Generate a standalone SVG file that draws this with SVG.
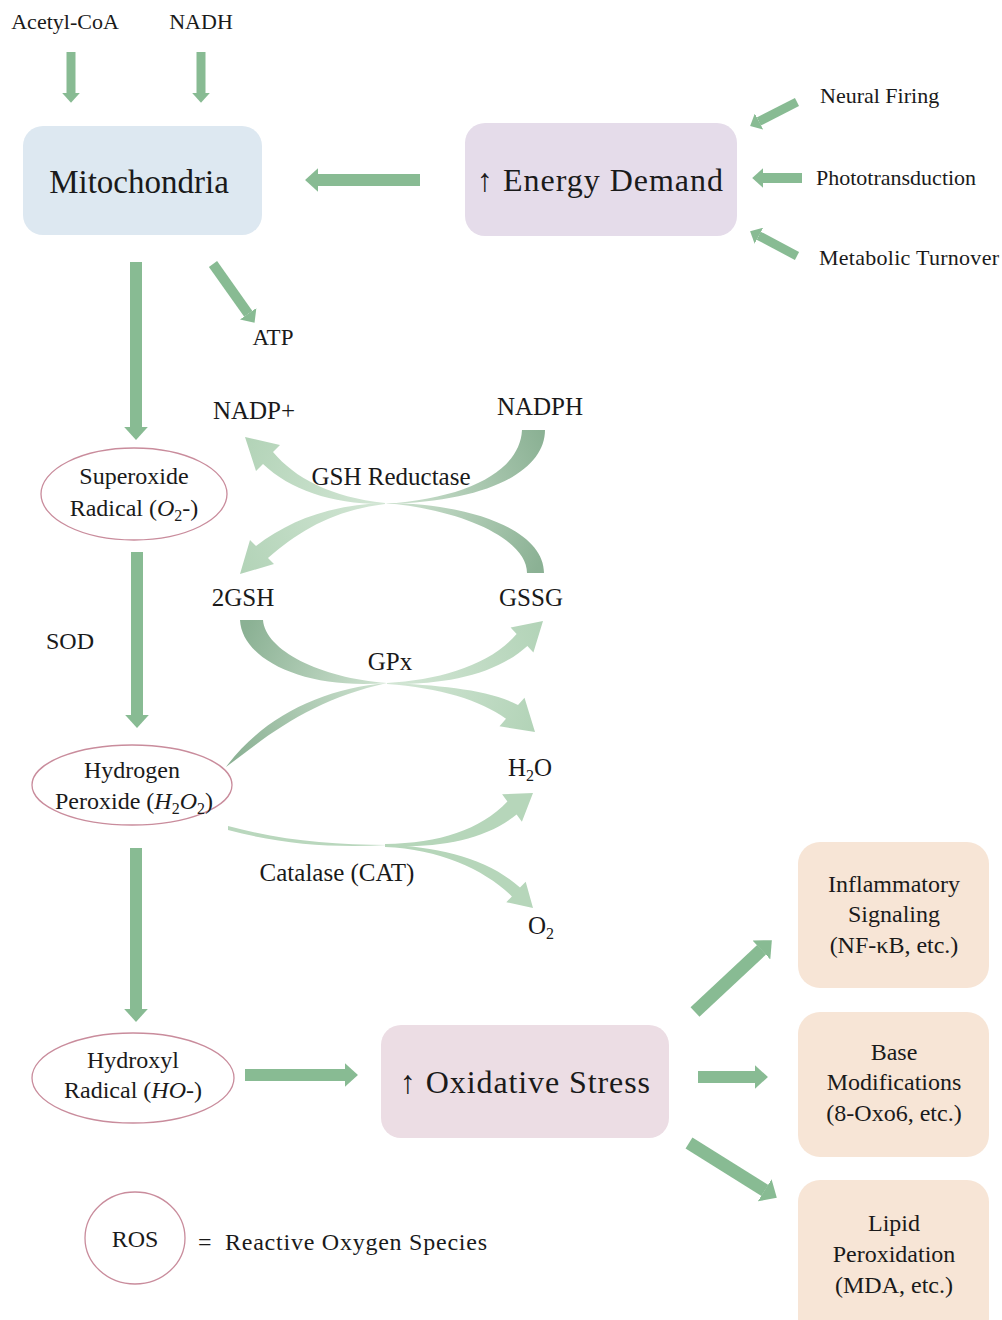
<svg xmlns="http://www.w3.org/2000/svg" width="1002" height="1320" viewBox="0 0 1002 1320">
<style>
text{font-family:"Liberation Serif","Times New Roman",serif;fill:#1a1a1a}
.lbl{font-size:25px;text-anchor:middle}
.sm{font-size:22px}
.el{font-size:24px;text-anchor:middle}
.bx{font-size:24px;text-anchor:middle}
.big{text-anchor:middle}
.it{font-style:italic}
.ell{fill:#ffffff;stroke:#c98c9c;stroke-width:1.3}
.arr{stroke:#88bb93;fill:none;marker-end:url(#ah)}
</style>
<defs>
<marker id="ah" viewBox="0 0 1.1 2" refX="0.02" refY="1" markerWidth="1.1" markerHeight="2" orient="auto" markerUnits="strokeWidth"><path d="M0,0 L1.1,1 L0,2 Z" fill="#88bb93"/></marker>
<linearGradient id="gT1" gradientUnits="userSpaceOnUse" x1="540" y1="430" x2="385" y2="503"><stop offset="0" stop-color="#8bb194"/><stop offset="1" stop-color="#cfe3d1"/></linearGradient>
<linearGradient id="gH1" gradientUnits="userSpaceOnUse" x1="385" y1="503" x2="245" y2="437"><stop offset="0" stop-color="#d3e6d5"/><stop offset="1" stop-color="#b2d3b7"/></linearGradient>
<linearGradient id="gT2" gradientUnits="userSpaceOnUse" x1="535" y1="573" x2="385" y2="503"><stop offset="0" stop-color="#8bb194"/><stop offset="1" stop-color="#cfe3d1"/></linearGradient>
<linearGradient id="gH2" gradientUnits="userSpaceOnUse" x1="385" y1="503" x2="240" y2="574"><stop offset="0" stop-color="#d3e6d5"/><stop offset="1" stop-color="#b2d3b7"/></linearGradient>
<linearGradient id="gT3" gradientUnits="userSpaceOnUse" x1="250" y1="620" x2="387" y2="683"><stop offset="0" stop-color="#8bb194"/><stop offset="1" stop-color="#cfe3d1"/></linearGradient>
<linearGradient id="gH3" gradientUnits="userSpaceOnUse" x1="387" y1="683" x2="543" y2="621"><stop offset="0" stop-color="#d3e6d5"/><stop offset="1" stop-color="#b2d3b7"/></linearGradient>
<linearGradient id="gT4" gradientUnits="userSpaceOnUse" x1="235" y1="761" x2="387" y2="683"><stop offset="0" stop-color="#8bb194"/><stop offset="1" stop-color="#cfe3d1"/></linearGradient>
<linearGradient id="gH4" gradientUnits="userSpaceOnUse" x1="387" y1="683" x2="535" y2="732"><stop offset="0" stop-color="#d3e6d5"/><stop offset="1" stop-color="#b2d3b7"/></linearGradient>
</defs>
<rect width="1002" height="1320" fill="#ffffff"/>

<g id="connectors">
<line class="arr" x1="71" y1="52" x2="71" y2="93" stroke-width="9"/>
<line class="arr" x1="201" y1="52" x2="201" y2="93" stroke-width="9"/>
<line class="arr" x1="420" y1="180" x2="318" y2="180" stroke-width="12"/>
<line class="arr" x1="797" y1="102" x2="758.8" y2="121.5" stroke-width="9"/>
<line class="arr" x1="802" y1="178" x2="763" y2="178" stroke-width="10"/>
<line class="arr" x1="797" y1="256" x2="758.7" y2="235.7" stroke-width="9"/>
<line class="arr" x1="213" y1="264" x2="248.3" y2="313.9" stroke-width="10"/>
<line class="arr" x1="136" y1="262" x2="136" y2="427" stroke-width="12"/>
<line class="arr" x1="137" y1="552" x2="137" y2="715" stroke-width="12"/>
<line class="arr" x1="136" y1="848" x2="136" y2="1009" stroke-width="12"/>
<line class="arr" x1="245" y1="1075" x2="345" y2="1075" stroke-width="12"/>
<line class="arr" x1="695" y1="1012" x2="761.6" y2="949.8" stroke-width="13"/>
<line class="arr" x1="698" y1="1077" x2="755" y2="1077" stroke-width="12"/>
<line class="arr" x1="689" y1="1143" x2="764.9" y2="1190.4" stroke-width="13"/>
<!-- GSH reductase cross -->
<path d="M522,430 L545,430 C545,470 490,502 385,504 C470,498 520,470 522,430 Z" fill="url(#gT1)"/>
<path d="M385,503 C330,497 295,478 273,452 L280,445 L245,437 L256,471 L263,464 C290,490 335,505 385,504 Z" fill="url(#gH1)"/>
<path d="M527,573 L544,573 C544,530 470,503 385,503 C465,510 527,540 527,573 Z" fill="url(#gT2)"/>
<path d="M385,503 C330,505 290,520 256,546 L250,540 L240,574 L274,564 L268,558 C300,530 335,510 385,504 Z" fill="url(#gH2)"/>
<!-- GPx cross -->
<path d="M240,620 L263,620 C265,650 320,678 387,683 C305,690 242,660 240,620 Z" fill="url(#gT3)"/>
<path d="M387,683 C440,680 490,665 516.6,634.1 L510.6,627.4 L543,621 L533.4,652.6 L527.4,645.9 C495,675 445,685 387,684 Z" fill="url(#gH3)"/>
<path d="M226,767 C262,718 322,688 387,683 C328,696 286,721 246,752 Z" fill="url(#gT4)"/>
<path d="M387,683 C440,685 490,690 518,705 L524.5,697.7 L535,732 L499.5,726.3 L506,718.7 C480,700 440,688 387,684 Z" fill="url(#gH4)"/>
<!-- Catalase -->
<path d="M228,826 C280,840 330,845 388,845 C330,848 280,844 228,830 Z" fill="#b9d7bd"/>
<path d="M385,844 C440,843 480,830 507.4,801.5 L502.1,794.2 L533,793 L521.9,821.8 L516.6,814.5 C485,840 440,848 385,846 Z" fill="#b6d6ba"/>
<path d="M385,845 C440,846 490,860 520,887.6 L525.7,881.8 L533,908 L506.3,902.2 L511.9,896.4 C485,870 440,849 385,847 Z" fill="#b6d6ba"/>
</g>

<g id="labels">
<text class="sm" x="65" y="29" text-anchor="middle" font-size="21">Acetyl-CoA</text>
<text class="sm" x="201" y="29" text-anchor="middle" font-size="21">NADH</text>
<text class="sm" x="820" y="103">Neural Firing</text>
<text class="sm" x="816" y="185">Phototransduction</text>
<text class="sm" x="819" y="265" textLength="180">Metabolic Turnover</text>
<text x="273" y="345" text-anchor="middle" font-size="23">ATP</text>
<text class="lbl" x="254" y="419">NADP+</text>
<text class="lbl" x="540" y="415">NADPH</text>
<text class="lbl" x="391" y="485">GSH Reductase</text>
<text class="lbl" x="243" y="606">2GSH</text>
<text class="lbl" x="531" y="606">GSSG</text>
<text class="lbl" x="390" y="670">GPx</text>
<text x="70" y="649" font-size="24" text-anchor="middle">SOD</text>
<text class="lbl" x="530" y="776">H<tspan font-size="16" dy="5">2</tspan><tspan dy="-5">O</tspan></text>
<text class="lbl" x="337" y="881">Catalase (CAT)</text>
<text class="lbl" x="541" y="934">O<tspan font-size="16" dy="5">2</tspan></text>
</g>

<g id="mitochondria">
<rect x="23" y="126" width="239" height="109" rx="20" fill="#dde8f1"/>
<text class="big" x="139" y="193" font-size="33">Mitochondria</text>
</g>

<g id="energy-demand">
<rect x="465" y="123" width="272" height="113" rx="20" fill="#e5dcea"/>
<text x="477" y="191" font-size="32" textLength="246">↑ Energy Demand</text>
</g>

<g id="superoxide">
<ellipse class="ell" cx="134" cy="494" rx="93" ry="46"/>
<text class="el" x="134" y="484">Superoxide</text>
<text class="el" x="134" y="516">Radical (<tspan class="it">O</tspan><tspan font-size="16" dy="5">2</tspan><tspan dy="-5">-)</tspan></text>
</g>

<g id="hydrogen-peroxide">
<ellipse class="ell" cx="132" cy="785" rx="100" ry="40"/>
<text class="el" x="132" y="778">Hydrogen</text>
<text class="el" x="134" y="809">Peroxide (<tspan class="it">H</tspan><tspan font-size="16" dy="5">2</tspan><tspan class="it" dy="-5">O</tspan><tspan font-size="16" dy="5">2</tspan><tspan dy="-5">)</tspan></text>
</g>

<g id="hydroxyl">
<ellipse class="ell" cx="133" cy="1078" rx="101" ry="45"/>
<text class="el" x="133" y="1068">Hydroxyl</text>
<text class="el" x="133" y="1098">Radical (<tspan class="it">HO</tspan>-)</text>
</g>

<g id="oxidative-stress">
<rect x="381" y="1025" width="288" height="113" rx="20" fill="#ecdde4"/>
<text x="400" y="1093" font-size="32" textLength="250">↑ Oxidative Stress</text>
</g>

<g id="inflammatory">
<rect x="798" y="842" width="191" height="146" rx="22" fill="#f7e5d6"/>
<text class="bx" x="894" y="892">Inflammatory</text>
<text class="bx" x="894" y="922">Signaling</text>
<text class="bx" x="894" y="953">(NF-κB, etc.)</text>
</g>

<g id="base-modifications">
<rect x="798" y="1012" width="191" height="145" rx="22" fill="#f7e5d6"/>
<text class="bx" x="894" y="1060">Base</text>
<text class="bx" x="894" y="1090">Modifications</text>
<text class="bx" x="894" y="1121">(8-Oxo6, etc.)</text>
</g>

<g id="lipid-peroxidation">
<rect x="798" y="1180" width="191" height="160" rx="22" fill="#f7e5d6"/>
<text class="bx" x="894" y="1231">Lipid</text>
<text class="bx" x="894" y="1262">Peroxidation</text>
<text class="bx" x="894" y="1293">(MDA, etc.)</text>
</g>

<g id="legend">
<ellipse class="ell" cx="135" cy="1238" rx="50" ry="46"/>
<text x="135" y="1247" font-size="24" text-anchor="middle">ROS</text>
<text x="198" y="1250" font-size="24">=</text>
<text x="225" y="1250" font-size="24" textLength="262">Reactive Oxygen Species</text>
</g>
</svg>
